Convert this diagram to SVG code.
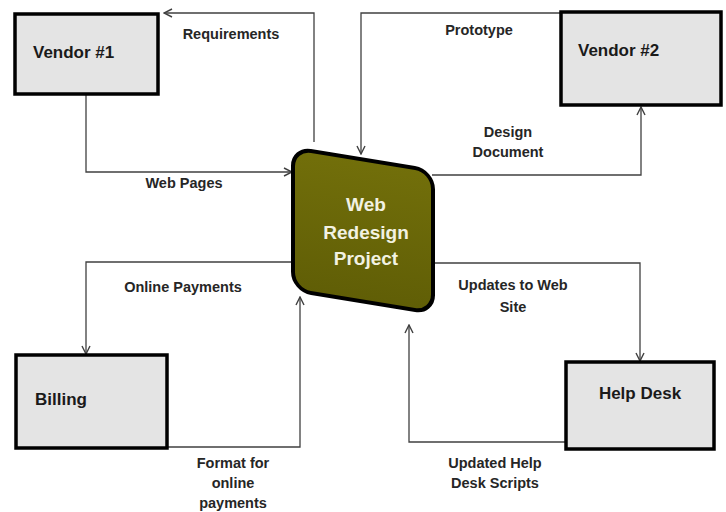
<svg xmlns="http://www.w3.org/2000/svg" width="726" height="512" viewBox="0 0 726 512">
<style>
.box{fill:#e4e4e4;stroke:#000;stroke-width:3.5}
.lbl{font-family:"Liberation Sans",Arial,sans-serif;font-weight:bold;font-size:17px;fill:#1a1a1a}
.t{font-family:"Liberation Sans",Arial,sans-serif;font-weight:bold;font-size:14.5px;fill:#262626;text-anchor:middle}
.c{fill:none;stroke:#404040;stroke-width:1.3}
.ct{font-family:"Liberation Sans",Arial,sans-serif;font-weight:bold;font-size:19px;fill:#f2f2e2;text-anchor:middle}
</style>
<defs>
<marker id="ah" viewBox="0 0 10 10" refX="9" refY="5" markerWidth="10" markerHeight="10" markerUnits="userSpaceOnUse" orient="auto">
<path d="M1,1 L9,5 L1,9" fill="none" stroke="#404040" stroke-width="1.4"/>
</marker>
<linearGradient id="og" x1="0" y1="0" x2="0" y2="1">
<stop offset="0" stop-color="#726f0a"/>
<stop offset="1" stop-color="#605e06"/>
</linearGradient>
</defs>
<rect width="726" height="512" fill="#fff"/>
<g id="connectors">
<path class="c" d="M314,142 V13 H164" marker-end="url(#ah)"/>
<path class="c" d="M86,94 V172 H292" marker-end="url(#ah)"/>
<path class="c" d="M561,13 H361 V154" marker-end="url(#ah)"/>
<path class="c" d="M432,175 H641 V107" marker-end="url(#ah)"/>
<path class="c" d="M291,262 H86 V354" marker-end="url(#ah)"/>
<path class="c" d="M167,447 H300 V297" marker-end="url(#ah)"/>
<path class="c" d="M430,263 H640 V361" marker-end="url(#ah)"/>
<path class="c" d="M566,442 H409 V325" marker-end="url(#ah)"/>
<text class="t" x="231" y="39">Requirements</text>
<text class="t" x="184" y="188">Web Pages</text>
<text class="t" x="479" y="35">Prototype</text>
<text class="t" x="508" y="137">Design</text>
<text class="t" x="508" y="157">Document</text>
<text class="t" x="183" y="292">Online Payments</text>
<text class="t" x="233" y="468">Format for</text>
<text class="t" x="233" y="488">online</text>
<text class="t" x="233" y="508">payments</text>
<text class="t" x="513" y="290">Updates to Web</text>
<text class="t" x="513" y="312">Site</text>
<text class="t" x="495" y="468">Updated Help</text>
<text class="t" x="495" y="488">Desk Scripts</text>
</g>
<g id="vendor1">
<rect class="box" x="15" y="14" width="143" height="80"/>
<text class="lbl" x="33" y="58">Vendor #1</text>
</g>
<g id="vendor2">
<rect class="box" x="561" y="12" width="160" height="93"/>
<text class="lbl" x="578" y="56">Vendor #2</text>
</g>
<g id="billing">
<rect class="box" x="16" y="355" width="151" height="93"/>
<text class="lbl" x="35" y="405">Billing</text>
</g>
<g id="helpdesk">
<rect class="box" x="566" y="362" width="148" height="87"/>
<text class="lbl" x="640" y="399" text-anchor="middle">Help Desk</text>
</g>
<g id="project">
<g transform="translate(293,148) skewY(9.3)">
<rect x="0" y="0" width="140" height="142" rx="18" fill="url(#og)" stroke="#000" stroke-width="4"/>
</g>
<text class="ct" x="366" y="211">Web</text>
<text class="ct" x="366" y="239">Redesign</text>
<text class="ct" x="366" y="265">Project</text>
</g>
</svg>
